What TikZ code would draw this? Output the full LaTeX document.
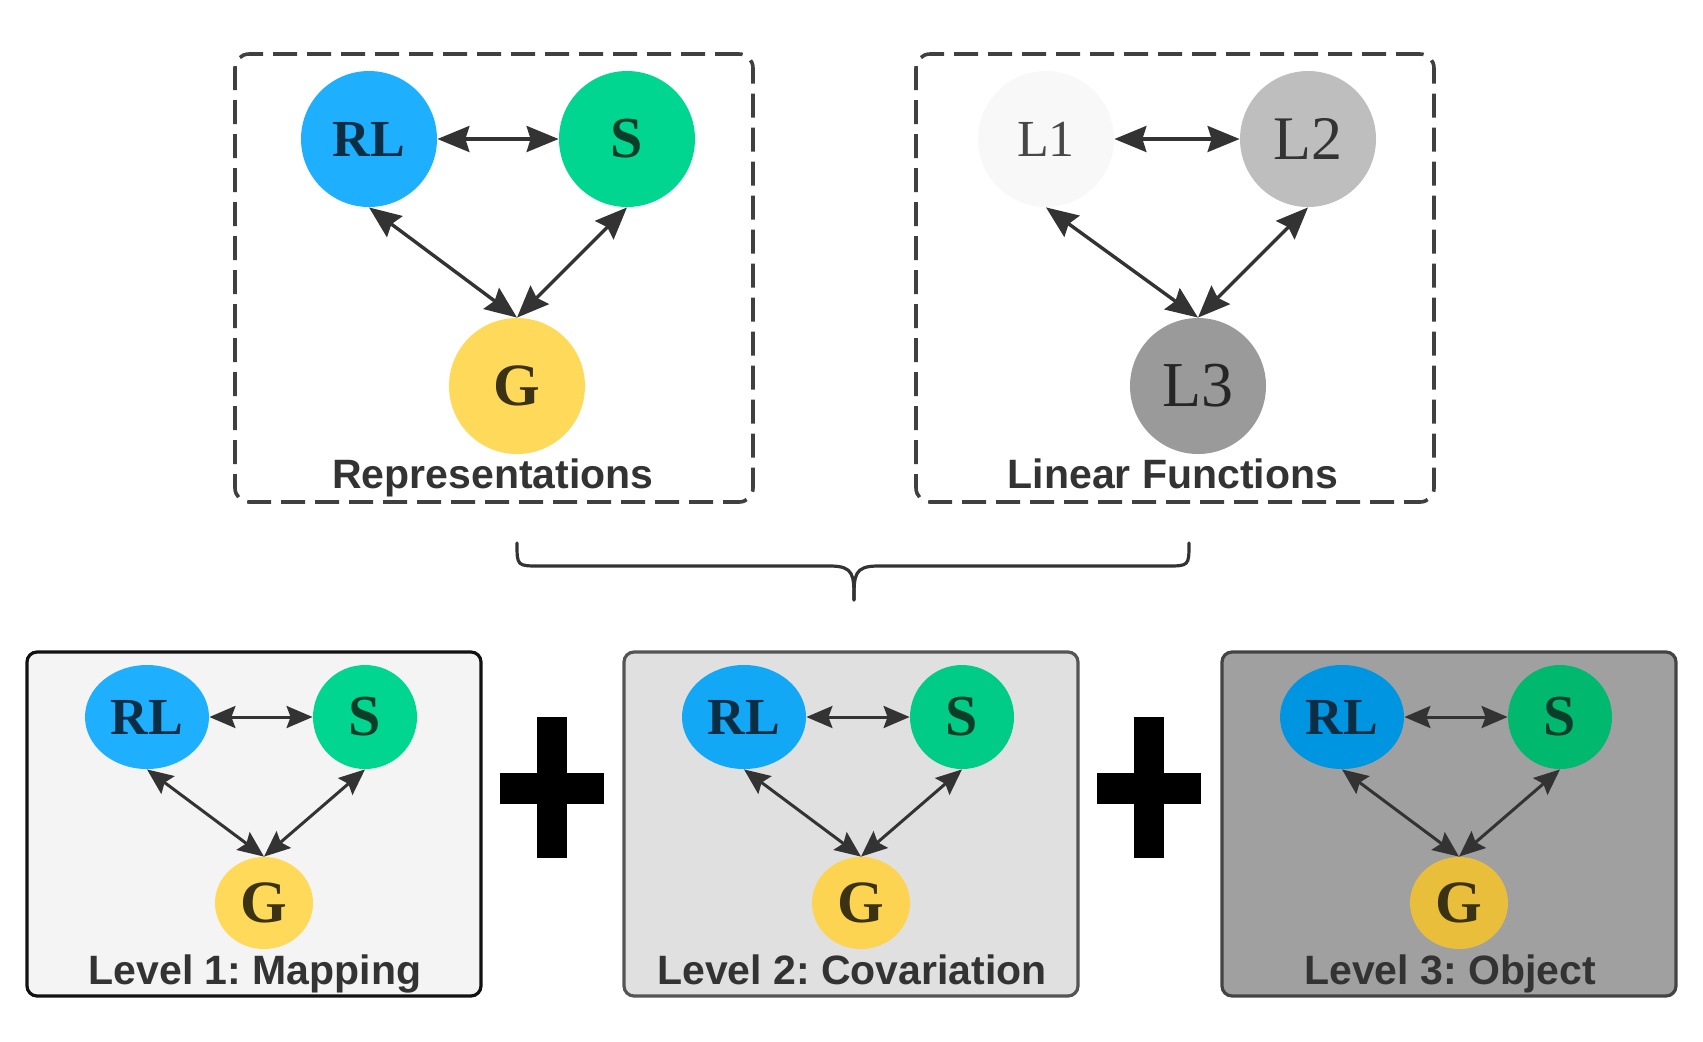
\documentclass[tikz,border=0pt]{standalone}
\usepackage{fontspec}
\setmainfont{Liberation Serif}
\setsansfont{Liberation Sans}
\usetikzlibrary{arrows.meta,shapes.geometric}

\definecolor{rlone}{HTML}{1EB0FF}
\definecolor{sone}{HTML}{00D68F}
\definecolor{gone}{HTML}{FFD95A}
\definecolor{rltwo}{HTML}{12A8F5}
\definecolor{stwo}{HTML}{00CC88}
\definecolor{gtwo}{HTML}{FDD452}
\definecolor{rlthree}{HTML}{0095E0}
\definecolor{sthree}{HTML}{00B86E}
\definecolor{gthree}{HTML}{E8BE3A}
\definecolor{fillone}{HTML}{F4F4F4}
\definecolor{filltwo}{HTML}{E0E0E0}
\definecolor{fillthree}{HTML}{A0A0A0}
\definecolor{edgeone}{HTML}{111111}
\definecolor{edgetwo}{HTML}{555555}
\definecolor{edgethree}{HTML}{444444}
\definecolor{lone}{HTML}{F8F8F8}
\definecolor{ltwo}{HTML}{BEBEBE}
\definecolor{lthree}{HTML}{9A9A9A}
\definecolor{rltext}{HTML}{0B2E45}
\definecolor{stext}{HTML}{0A3D2A}
\definecolor{gtext}{HTML}{3B3214}
\definecolor{inkgray}{HTML}{333333}
\definecolor{framegray}{HTML}{404040}

\tikzset{
  dashframe/.style={draw=framegray, line width=1.8pt, dash pattern=on 12pt off 5pt,
    rounded corners=7pt, minimum width=259pt, minimum height=224pt, inner sep=0pt},
  levelframe/.style={line width=1.6pt, rounded corners=5pt,
    minimum width=227pt, minimum height=172pt, inner sep=0pt},
  topvertex/.style={circle, inner sep=0pt, minimum size=68pt},
  rlfont/.style={font=\bfseries\fontsize{26pt}{28pt}\selectfont, text=rltext},
  sfont/.style={font=\bfseries\fontsize{29pt}{30pt}\selectfont, text=stext},
  gfont/.style={font=\bfseries\fontsize{30pt}{30pt}\selectfont, text=gtext},
  caption/.style={anchor=base, text=inkgray, font=\sffamily\bfseries\fontsize{20.5pt}{22pt}\selectfont},
  link/.style={{Stealth[length=16pt,width=13pt,inset=2pt]}-{Stealth[length=16pt,width=13pt,inset=2pt]},
    line width=1.7pt, draw=inkgray},
  smalllink/.style={{Stealth[length=13pt,width=11pt,inset=2pt]}-{Stealth[length=13pt,width=11pt,inset=2pt]},
    line width=1.5pt, draw=inkgray},
}

\begin{document}
\frenchspacing
\begin{tikzpicture}[x=0.5pt, y=-0.5pt]
\useasboundingbox (0,0) rectangle (1703,1041);

% representations
\node[dashframe] (repbox) at (494,278) {};
\node[topvertex, rlfont, fill=rlone] (rl) at (369,139) {RL};
\node[topvertex, sfont, fill=sone] (s) at (627,139) {S};
\node[topvertex, gfont, fill=gone] (g) at (517,386) {G};
\draw[link] (rl.east) -- (s.west);
\draw[link] (rl.south) -- (g.north);
\draw[link] (s.south) -- (g.north);
\node[caption] (replabel) at (493,488) {Representations};

% linear functions
\node[dashframe] (linbox) at (1175,278) {};
\node[topvertex, fill=lone, text=black!72, font=\fontsize{26pt}{28pt}\selectfont] (l1) at (1046,139) {L1};
\node[topvertex, fill=ltwo, text=black!80, font=\fontsize{31pt}{32pt}\selectfont] (l2) at (1308,139) {L2};
\node[topvertex, fill=lthree, text=black!85, font=\fontsize{32pt}{32pt}\selectfont] (l3) at (1198,386) {L3};
\draw[link] (l1.east) -- (l2.west);
\draw[link] (l1.south) -- (l3.north);
\draw[link] (l2.south) -- (l3.north);
\node[caption] (linlabel) at (1173,488) {Linear Functions};

% brace
\draw[line width=1.6pt, draw=inkgray, line cap=round]
  (517,543) .. controls (517,566) .. (540,566) -- (830,566)
  .. controls (854,566) and (854,575) .. (854,600);
\draw[line width=1.6pt, draw=inkgray, line cap=round]
  (1189,543) .. controls (1189,566) .. (1166,566) -- (878,566)
  .. controls (854,566) and (854,575) .. (854,600);

% levels
\foreach \lvl/\dx/\capt in {one/0/{Level 1: Mapping}, two/597/{Level 2: Covariation}, three/1195/{Level 3: Object}} {
  \node[levelframe, fill=fill\lvl, draw=edge\lvl] (frame\lvl) at (254+\dx,824) {};
  \node[ellipse, inner sep=0pt, minimum width=62pt, minimum height=52pt, rlfont, fill=rl\lvl] (rl\lvl) at (147+\dx,717) {RL};
  \node[ellipse, inner sep=0pt, minimum width=52pt, minimum height=52pt, sfont, fill=s\lvl] (s\lvl) at (365+\dx,717) {S};
  \node[ellipse, inner sep=0pt, minimum width=49pt, minimum height=46pt, gfont, fill=g\lvl] (g\lvl) at (264+\dx,903) {G};
  \draw[smalllink] (rl\lvl.east) -- (s\lvl.west);
  \draw[smalllink] (rl\lvl.south) -- (g\lvl.north);
  \draw[smalllink] (s\lvl.south) -- (g\lvl.north);
  \node[caption] (cap\lvl) at (255+\dx,984) {\capt};
}

% plus signs
\foreach \px in {552,1149} {
  \fill[black] (\px-52,773) rectangle (\px+52,804);
  \fill[black] (\px-15,717) rectangle (\px+15,858);
}
\end{tikzpicture}
\end{document}
